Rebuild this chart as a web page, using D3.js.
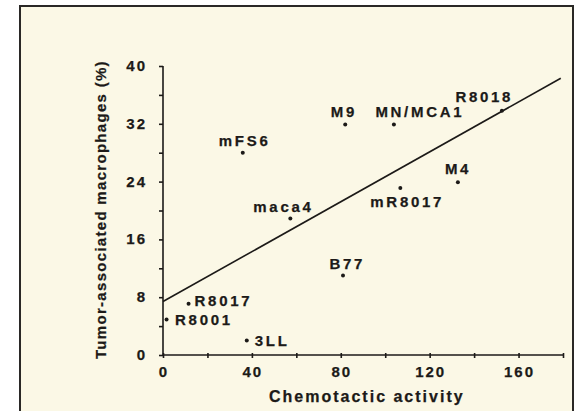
<!DOCTYPE html>
<html>
<head>
<meta charset="utf-8">
<script src="https://cdn.jsdelivr.net/npm/d3@7"></script>
<style>
  body { margin:0; background:#fff; }
  svg text { font-family:"Liberation Sans", Arial, sans-serif; font-weight:bold; fill:#1c1a18; stroke:#1c1a18; stroke-width:0.25px; }
</style>
</head>
<body>
<svg></svg>
<script>
// tumor lines
var names = ["mFS6","M9","MN/MCA1","R8018","M4","mR8017","maca4","B77","R8017","R8001","3LL"];
var chemotaxis = [35.9, 82.0, 103.9, 152.5, 132.7, 106.8, 57.3, 81.0, 11.5, 1.6, 37.7];
var tam = [28.0, 31.9, 31.9, 33.8, 23.9, 23.1, 18.9, 11.0, 7.1, 4.9, 2.0];

// fitted line end points
var fitX = [0, 179];
var fitY = [7.4, 38.3];

var xTicks = [0, 40, 80, 120, 160];
var yTicks = [0, 8, 16, 24, 32, 40];

// where each label sits relative to its dot (pixels)
var labelPos = [[-24,-7],[-14.5,-8],[-18.5,-8],[-46.5,-9],[-13,-8],[-30,18.5],[-37,-6.5],[-13.5,-7],[6,2.5],[8.5,5],[8,5]];

var screen = { width:574, height:411 };

var svg = d3.select("svg")
  .attr("width", screen.width)
  .attr("height", screen.height);

// scanned page background + frame
svg.append("rect")
  .attr("x",20).attr("y",6)
  .attr("width",553).attr("height",410)
  .attr("fill","#fbf8e6")
  .attr("stroke","#2a2826")
  .attr("stroke-width",2);

var xScale = d3.scaleLinear().domain([0,180]).range([163,563]);
var yScale = d3.scaleLinear().domain([0,40]).range([355,66]);

// axes
var xAxis = d3.axisBottom(xScale)
  .tickValues(d3.range(0,181,20))
  .tickSize(3)
  .tickFormat("");
var gx = svg.append("g").classed("xAxis",true)
  .attr("transform","translate(0,"+yScale(0)+")")
  .call(xAxis);
gx.selectAll(".tick line").attr("y1",-2);

var yAxis = d3.axisLeft(yScale)
  .tickValues(d3.range(0,41,4))
  .tickSize(4)
  .tickFormat("");
var gy = svg.append("g").classed("yAxis",true)
  .attr("transform","translate("+xScale(0)+",0)")
  .call(yAxis);

svg.selectAll(".domain").attr("d",null);
svg.append("line")
  .attr("x1",xScale(0)).attr("x2",xScale(180))
  .attr("y1",yScale(0)).attr("y2",yScale(0));
svg.append("line")
  .attr("x1",xScale(0)).attr("x2",xScale(0))
  .attr("y1",yScale(0)).attr("y2",yScale(40));
svg.selectAll("line").attr("stroke","#1c1a18").attr("stroke-width",1.6);

// tick labels
svg.append("g").selectAll("text")
  .data(xTicks)
  .enter()
  .append("text")
  .attr("x",function(d){ return xScale(d)+1; })
  .attr("y",yScale(0)+22)
  .attr("text-anchor","middle")
  .style("font-size","15px")
  .style("letter-spacing","2px")
  .text(function(d){ return d; });

svg.append("g").selectAll("text")
  .data(yTicks)
  .enter()
  .append("text")
  .attr("x",xScale(0)-16)
  .attr("y",function(d){ return yScale(d)+5; })
  .attr("text-anchor","end")
  .style("font-size","15px")
  .style("letter-spacing","2px")
  .text(function(d){ return d; });

// axis titles
svg.append("text")
  .attr("x",269)
  .attr("y",402)
  .style("font-size","16px")
  .style("letter-spacing","2px")
  .text("Chemotactic activity");

svg.append("text")
  .attr("transform","translate(106,359) rotate(-90)")
  .style("font-size","15px")
  .style("letter-spacing","1.3px")
  .text("Tumor-associated macrophages (%)");

// fitted line
svg.append("path")
  .datum(d3.zip(fitX,fitY))
  .attr("d",d3.line()
    .x(function(d){ return xScale(d[0]); })
    .y(function(d){ return yScale(d[1]); }))
  .attr("fill","none")
  .attr("stroke","#1c1a18")
  .attr("stroke-width",1.6);

// points
var points = svg.append("g").selectAll("g")
  .data(names)
  .enter()
  .append("g")
  .attr("transform",function(d,i){
    return "translate("+xScale(chemotaxis[i])+","+yScale(tam[i])+")";
  });

points.append("circle")
  .attr("r",2)
  .attr("fill","#1c1a18");

points.append("text")
  .attr("x",function(d,i){ return labelPos[i][0]; })
  .attr("y",function(d,i){ return labelPos[i][1]; })
  .style("font-size","15px")
  .style("letter-spacing","2.7px")
  .text(function(d){ return d; });
</script>
</body>
</html>
